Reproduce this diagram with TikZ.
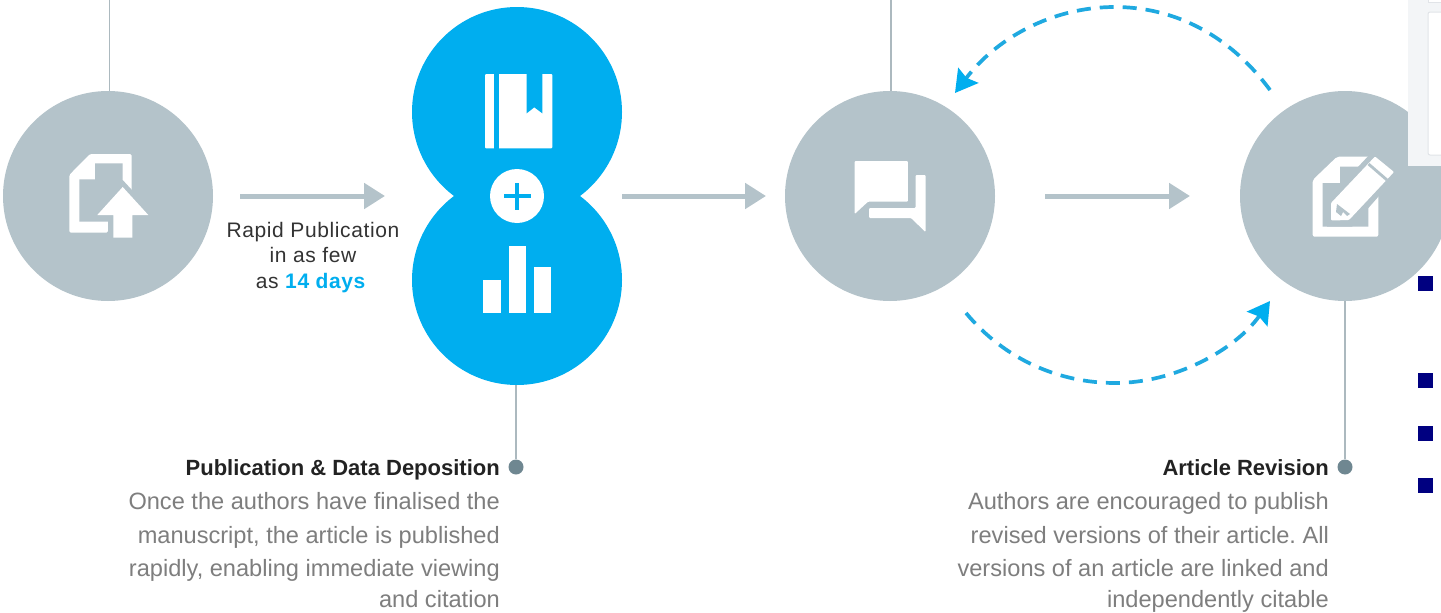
\documentclass[tikz,border=0pt]{standalone}
\usepackage{fontspec}
\setmainfont{Liberation Sans}
\usetikzlibrary{arrows.meta}
\definecolor{greyc}{HTML}{B4C3CA}
\definecolor{bluec}{HTML}{00AEEF}
\definecolor{dashc}{HTML}{1FA9E0}
\definecolor{dotc}{HTML}{6F8791}
\definecolor{navyc}{HTML}{000080}
\definecolor{panelc}{HTML}{F3F5F7}
\definecolor{panelb}{HTML}{E1E4E8}
\definecolor{bodyc}{HTML}{7E7E7E}
\definecolor{titlec}{HTML}{222222}
\tikzset{
  bigc/.style={circle,fill=greyc,minimum size=210pt,inner sep=0pt,outer sep=0pt},
  bluecirc/.style={circle,fill=bluec,minimum size=210pt,inner sep=0pt,outer sep=0pt},
  plusc/.style={circle,fill=white,minimum size=54pt,inner sep=0pt,outer sep=0pt},
  flow/.style={draw=greyc,line width=5pt,-{Triangle[length=21pt,width=25pt]}},
  dashflow/.style={draw=dashc,line width=3.7pt,dash pattern=on 14pt off 9pt,-{Stealth[length=22pt,width=25pt,inset=3pt,color=bluec,sep=0pt]}},
  stem/.style={draw=greyc!85!gray,line width=1.4pt},
  pin/.style={circle,fill=dotc,minimum size=15pt,inner sep=0pt},
  ttl/.style={anchor=base east,font=\fontsize{22}{26}\bfseries,text=titlec,inner sep=0pt},
  bod/.style={anchor=base east,font=\fontsize{23.6}{26}\selectfont,text=bodyc,inner sep=0pt},
  lab/.style={anchor=base,font=\fontsize{21}{24}\selectfont\addfontfeature{LetterSpace=3},text=black!80,inner sep=0pt},
  bullet/.style={fill=navyc,minimum size=15pt,inner sep=0pt}
}
\begin{document}
\frenchspacing
\begin{tikzpicture}[x=1pt,y=-1pt]
\useasboundingbox (0,0) rectangle (1441,613);
\clip (0,0) rectangle (1441,613);
\fill[white] (0,0) rectangle (1441,613);
% coordinates for free ends
\coordinate (t1) at (109.5,0);
\coordinate (t3) at (891,0);
\coordinate (revS) at (1270,90);
\coordinate (revT) at (955,93);
\coordinate (revMid) at (1115,7);
\coordinate (fwdS) at (966,313);
\coordinate (fwdT) at (1270,301);
\coordinate (fwdMid) at (1115,383);
% circles
\node[bigc] (c1) at (108,196) {};
\node[bluecirc] (bt) at (517,112) {};
\node[bluecirc] (bb) at (517,280) {};
\node[plusc] (plus) at (517,196) {};
\node[bigc] (c3) at (890,196) {};
\node[bigc] (c4) at (1345,196) {};
% panel over the last circle
\fill[panelc] (1408,0) rectangle (1441,166);
\filldraw[fill=white,draw=panelb,line width=1pt,rounded corners=2pt] (1428,12) rectangle (1450,155);
\filldraw[fill=white,draw=panelb,line width=1pt] (1428,-6) rectangle (1450,2);
% stems and pins
\node[pin] (p2) at (516,467) {};
\node[pin] (p4) at (1345,467) {};
\draw[stem] (t1) -- (t1 |- c1.north);
\draw[stem] (t3) -- (t3 |- c3.north);
\draw[stem] (bb.south -| p2) -- (p2.north);
\draw[stem] (c4.south) -- (p4.north);
% flow arrows
\draw[flow,shorten <=27pt,shorten >=105pt] (c1.east) -- (plus.west);
\draw[flow,shorten <=78pt,shorten >=19pt] (plus.east) -- (c3.west);
\draw[flow,shorten <=50pt,shorten >=50pt] (c3.east) -- (c4.west);
% dashed loop
\draw[dashflow] (revS) .. controls (1228,33) and (1172,7) .. (revMid) .. controls (1050,7) and (995,40) .. (revT);
\draw[dashflow] (fwdS) .. controls (1005,360) and (1060,383) .. (fwdMid) .. controls (1175,383) and (1235,350) .. (fwdT);
% icon 1
\fill[white,rounded corners=1.5pt] (90,154) -- (131.7,154) -- (131.7,200) -- (108,221) -- (108,232.7) -- (69.3,232.7) -- (69.3,175) -- cycle;
\fill[greyc] (79.3,179.3) -- (95,179.3) -- (95,163.3) -- (122.7,163.3) -- (122.7,221.7) -- (79.3,221.7) -- cycle;
\fill[greyc] (122.7,180) -- (156,216) -- (137,222) -- (137,242) -- (108,242) -- (108,216) -- (90,216) -- cycle;
\fill[white] (122.7,187) -- (148.3,215) -- (132.3,215) -- (132.3,237.7) -- (113.3,237.7) -- (113.3,215) -- (97.3,215) -- cycle;
% icon 2: book
\fill[white,rounded corners=1pt] (485,74) rectangle (552.3,148.3);
\fill[bluec] (494.3,72) rectangle (498.7,150);
\fill[bluec] (526.7,72) -- (542.3,72) -- (542.3,113.3) -- (534.3,107.3) -- (526.7,113.3) -- cycle;
% icon: plus
\fill[bluec] (515,182.5) rectangle (519,209.5);
\fill[bluec] (503.5,194) rectangle (530.5,198);
% icon: bars
\fill[white] (483.3,280) rectangle (500.7,313.3);
\fill[white] (508.7,246) rectangle (525.7,313.3);
\fill[white] (534,266.7) rectangle (551,313.3);
% icon 3: speech
\fill[white,rounded corners=1pt] (854.7,161) -- (907.8,161) -- (907.8,201.7) -- (868,201.7) -- (854.7,214) -- cycle;
\fill[white,rounded corners=1pt] (915.5,175) -- (925.5,175) -- (925.5,232) -- (911,218) -- (869,218) -- (869,208) -- (915.5,208) -- cycle;
% icon 4: document and pencil
\fill[white,rounded corners=2pt] (1337,156.7) -- (1372,156.7) -- (1378.3,170) -- (1378.3,236.7) -- (1312.7,236.7) -- (1312.7,180) -- cycle;
\fill[greyc] (1322.7,183) -- (1340,183) -- (1340,166.7) -- (1368.3,166.7) -- (1368.3,226.7) -- (1322.7,226.7) -- cycle;
\fill[greyc] (1327,200) -- (1372,152) -- (1400,172) -- (1352,226.7) -- (1327,226.7) -- cycle;
\fill[white,rounded corners=1pt] (1331,203) -- (1375,156.5) -- (1394,172) -- (1349,220) -- (1331,220.5) -- cycle;
\fill[greyc] (1367.5,165) -- (1369.5,163) -- (1388,179) -- (1386,181) -- cycle;
\fill[greyc] (1337,204) -- (1350,214) -- (1347,216) -- (1343,212) -- (1341,216) -- (1336,212) -- cycle;
% labels
\node[lab] (r1) at (313,237) {Rapid Publication};
\node[lab] (r2) at (313,262) {in as few};
\node[lab] (r3) at (311,288) {as \textcolor{bluec}{\textbf{14 days}}};
\node[ttl] (t2) at (500,475) {Publication \& Data Deposition};
\node[bod] (b21) at (500,509.5) {Once the authors have finalised the};
\node[bod] (b22) at (500,543) {manuscript, the article is published};
\node[bod] (b23) at (500,576.5) {rapidly, enabling immediate viewing};
\node[bod] (b24) at (500,607.5) {and citation};
\node[ttl] (t4) at (1329,475) {Article Revision};
\node[bod] (b41) at (1329,509.5) {Authors are encouraged to publish};
\node[bod] (b42) at (1329,543) {revised versions of their article. All};
\node[bod] (b43) at (1329,576.5) {versions of an article are linked and};
\node[bod] (b44) at (1329,607.5) {independently citable};
% bullets
\node[bullet] (n1) at (1425,283.5) {};
\node[bullet] (n2) at (1425,380.5) {};
\node[bullet] (n3) at (1425,433) {};
\node[bullet] (n4) at (1425,485) {};
\end{tikzpicture}
\end{document}
